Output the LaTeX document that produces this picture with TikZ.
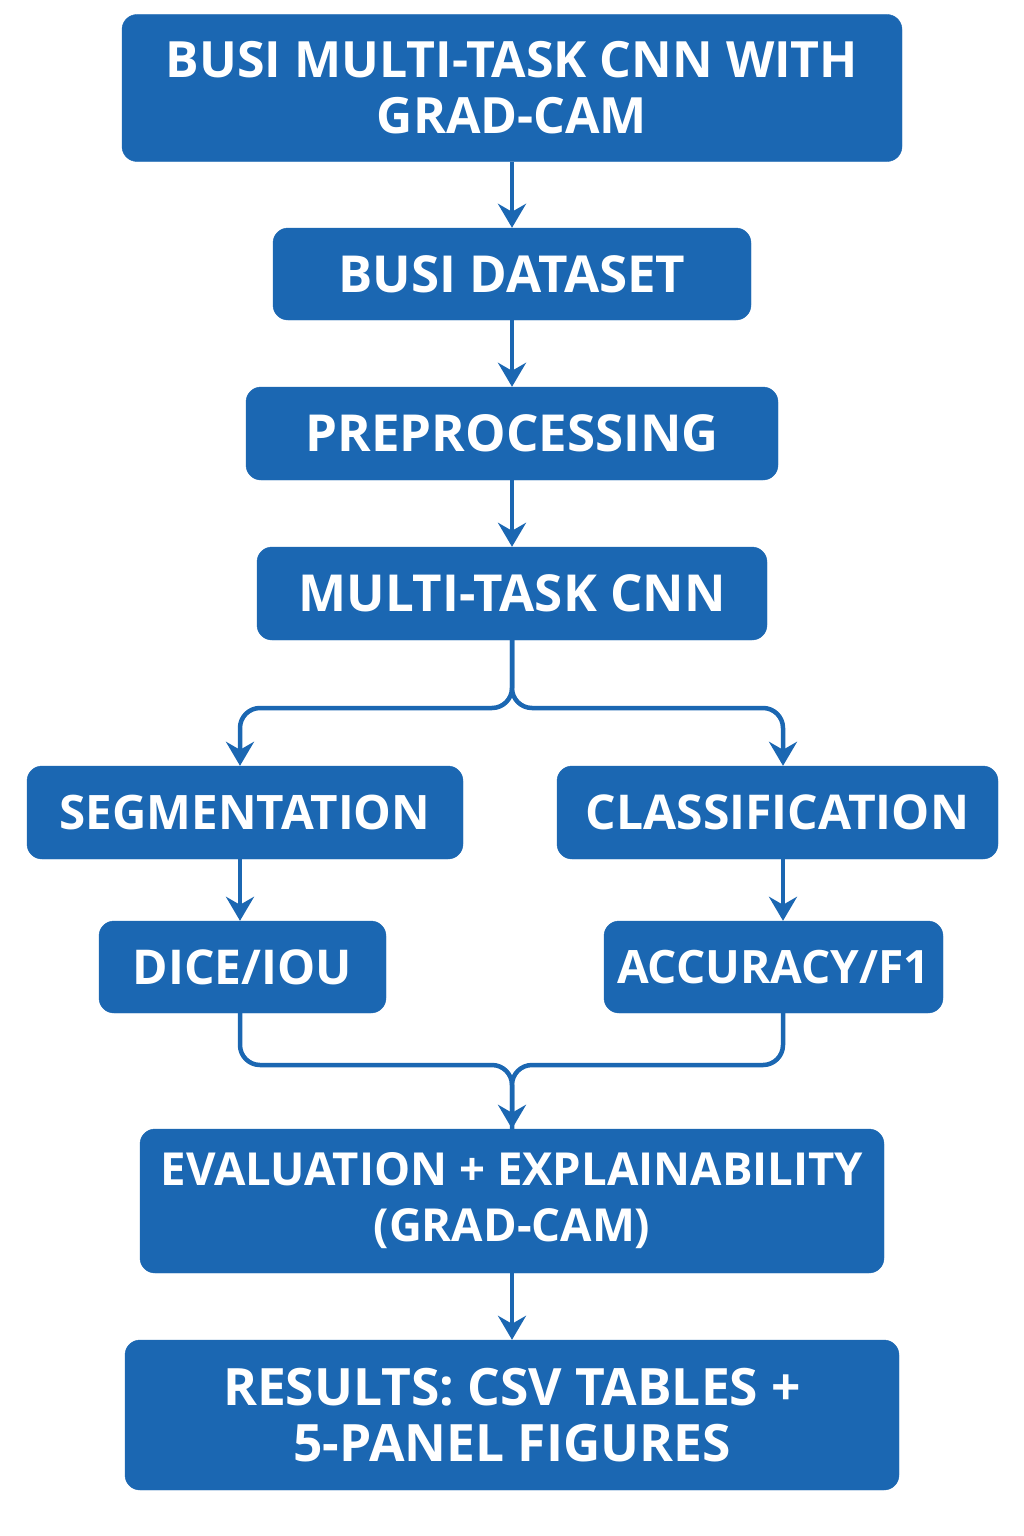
\documentclass[tikz,border=0pt]{standalone}
\usepackage{fontspec}
\setmainfont{Open Sans}
\usetikzlibrary{arrows.meta}
\definecolor{boxblue}{HTML}{1B67B2}
\tikzset{
  box/.style={draw=boxblue, fill=boxblue, rounded corners=15pt, text=white,
    font=\bfseries\fontsize{49}{56}\selectfont, align=center, inner sep=0pt},
  fs/.style={font=\bfseries\fontsize{#1}{56}\selectfont},
  arr/.style={draw=boxblue, line width=4.5pt, rounded corners=20pt,
    -{Stealth[length=24pt,width=28pt,inset=8pt]}},
  lin/.style={draw=boxblue, line width=4.5pt, rounded corners=20pt}
}
\begin{document}
\begin{tikzpicture}[x=1pt,y=-1pt]
\useasboundingbox (0,0) rectangle (1024,1536);
\node[box, fs=50, minimum width=780pt, minimum height=147pt] (title) at (512,88) {BUSI MULTI-TASK CNN WITH\\GRAD-CAM};
\node[box, fs=51, minimum width=478pt, minimum height=92pt] (data) at (512,274) {BUSI DATASET};
\node[box, fs=51, minimum width=532pt, minimum height=93pt] (prep) at (512,433.5) {PREPROCESSING};
\node[box, fs=51, minimum width=510pt, minimum height=93pt] (cnn) at (512,593.5) {MULTI-TASK CNN};
\node[box, fs=47.5, minimum width=436pt, minimum height=93pt] (seg) at (245,812.5) {SEGMENTATION};
\node[box, fs=48, minimum width=441pt, minimum height=93pt] (cls) at (777.5,812.5) {CLASSIFICATION};
\node[box, fs=48, minimum width=287pt, minimum height=92pt] (dice) at (242.5,967) {DICE/IOU};
\node[box, fs=46, minimum width=339pt, minimum height=92pt] (acc) at (773.5,967) {ACCURACY/F1};
\node[box, fs=45.5, minimum width=744pt, minimum height=144pt] (eval) at (512,1201) {EVALUATION + EXPLAINABILITY\\(GRAD-CAM)};
\node[box, fs=51.5, minimum width=774pt, minimum height=150pt] (res) at (512,1415) {RESULTS: CSV TABLES +\\5-PANEL FIGURES};
\coordinate (splitY) at (0,708);
\coordinate (mergeY) at (0,1065);
\coordinate (segX) at (240,0);
\coordinate (clsX) at (783,0);
\draw[arr] (title) -- (data);
\draw[arr] (data) -- (prep);
\draw[arr] (prep) -- (cnn);
\draw[arr] (cnn.south) -- (cnn.south |- splitY) -- (segX |- splitY) -- (segX |- seg.north);
\draw[arr] (cnn.south) -- (cnn.south |- splitY) -- (clsX |- splitY) -- (clsX |- cls.north);
\draw[arr] (segX |- seg.south) -- (segX |- dice.north);
\draw[arr] (clsX |- cls.south) -- (clsX |- acc.north);
\draw[lin] (segX |- dice.south) -- (segX |- mergeY) -- (eval.north |- mergeY) -- (eval.north);
\draw[arr] (clsX |- acc.south) -- (clsX |- mergeY) -- (eval.north |- mergeY) -- (eval.north);
\draw[arr] (eval) -- (res);
\end{tikzpicture}
\end{document}
